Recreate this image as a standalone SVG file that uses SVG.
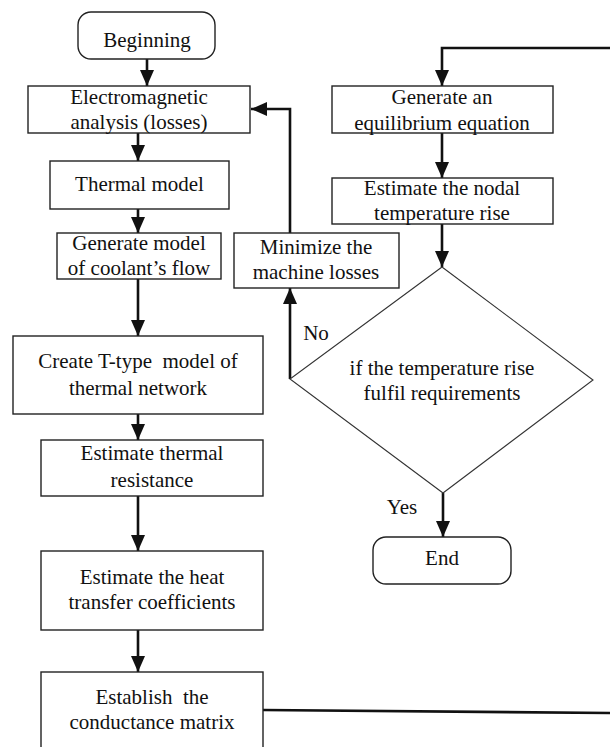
<svg xmlns="http://www.w3.org/2000/svg" width="610" height="747" viewBox="0 0 610 747">
  <style>
    .box { fill: #fff; stroke: #222; stroke-width: 1.4; }
    .dia { fill: #fff; stroke: #333; stroke-width: 1.1; }
    .c { fill: none; stroke: #111; stroke-width: 2.6; }
    text { font-family: "Liberation Serif", "Times New Roman", serif; font-size: 21px; fill: #111; text-anchor: middle; }
  </style>
  <defs>
    <marker id="arrow" markerUnits="userSpaceOnUse" markerWidth="16" markerHeight="14" refX="16" refY="7" orient="auto">
      <path d="M0,0 L16,7 L0,14 z" fill="#111"/>
    </marker>
  </defs>
  <rect width="610" height="747" fill="#fff"/>

  <!-- connectors -->
  <g id="connectors">
    <line class="c" x1="147" y1="59" x2="147" y2="86" marker-end="url(#arrow)"/>
    <line class="c" x1="138" y1="133" x2="138" y2="161" marker-end="url(#arrow)"/>
    <line class="c" x1="138" y1="209" x2="138" y2="233" marker-end="url(#arrow)"/>
    <line class="c" x1="138" y1="279" x2="138" y2="336" marker-end="url(#arrow)"/>
    <line class="c" x1="138" y1="414" x2="138" y2="440" marker-end="url(#arrow)"/>
    <line class="c" x1="138" y1="496" x2="138" y2="551" marker-end="url(#arrow)"/>
    <line class="c" x1="138" y1="630" x2="138" y2="672" marker-end="url(#arrow)"/>
    <!-- loop from the conductance matrix back to the equilibrium equation -->
    <path class="c" d="M263,710 L614,713 L614,48 L442,48 L442,86" marker-end="url(#arrow)"/>
    <line class="c" x1="442" y1="133" x2="442" y2="178" marker-end="url(#arrow)"/>
    <line class="c" x1="442" y1="224" x2="442" y2="267" marker-end="url(#arrow)"/>
    <!-- No branch -->
    <line class="c" x1="290" y1="379" x2="290" y2="288" marker-end="url(#arrow)"/>
    <path class="c" d="M290,233 L290,109 L251,109" marker-end="url(#arrow)"/>
    <!-- Yes branch -->
    <line class="c" x1="443" y1="493" x2="443" y2="537" marker-end="url(#arrow)"/>
  </g>

  <g id="beginning">
    <rect class="box" x="78" y="12" width="137" height="47" rx="13"/>
    <text x="147" y="47">Beginning</text>
  </g>
  <g id="em-analysis">
    <rect class="box" x="28" y="86" width="222" height="47"/>
    <text x="139" y="104">Electromagnetic</text>
    <text x="139" y="129">analysis (losses)</text>
  </g>
  <g id="thermal-model">
    <rect class="box" x="50" y="161" width="179" height="48"/>
    <text x="139.5" y="191">Thermal model</text>
  </g>
  <g id="coolant-flow">
    <rect class="box" x="57" y="233" width="164" height="46"/>
    <text x="139" y="250">Generate model</text>
    <text x="139" y="275">of coolant&#8217;s flow</text>
  </g>
  <g id="t-type">
    <rect class="box" x="13" y="336" width="250" height="78"/>
    <text x="138" y="368" xml:space="preserve">Create T-type  model of</text>
    <text x="138" y="395">thermal network</text>
  </g>
  <g id="resistance">
    <rect class="box" x="41" y="440" width="222" height="56"/>
    <text x="152" y="460">Estimate thermal</text>
    <text x="152" y="487">resistance</text>
  </g>
  <g id="heat-transfer">
    <rect class="box" x="41" y="551" width="222" height="79"/>
    <text x="152" y="584">Estimate the heat</text>
    <text x="152" y="609">transfer coefficients</text>
  </g>
  <g id="conductance">
    <rect class="box" x="41" y="672" width="222" height="90"/>
    <text x="152" y="704" xml:space="preserve">Establish  the</text>
    <text x="152" y="729">conductance matrix</text>
  </g>
  <g id="equilibrium">
    <rect class="box" x="332" y="86" width="221" height="47"/>
    <text x="442" y="104">Generate an</text>
    <text x="442" y="130">equilibrium equation</text>
  </g>
  <g id="nodal-rise">
    <rect class="box" x="332" y="178" width="221" height="46"/>
    <text x="442" y="195">Estimate the nodal</text>
    <text x="442" y="220">temperature rise</text>
  </g>
  <g id="check">
    <polygon class="dia" points="442,267 593,380 443,493 290,379"/>
    <text x="442" y="375">if the temperature rise</text>
    <text x="442" y="400">fulfil requirements</text>
  </g>
  <g id="minimize">
    <rect class="box" x="234" y="233" width="165" height="55"/>
    <text x="316" y="254">Minimize the</text>
    <text x="316" y="279">machine losses</text>
  </g>
  <g id="end">
    <rect class="box" x="373" y="537" width="138" height="47" rx="13"/>
    <text x="442" y="565">End</text>
  </g>
  <g id="labels">
    <text x="316" y="340">No</text>
    <text x="402" y="514">Yes</text>
  </g>
</svg>
